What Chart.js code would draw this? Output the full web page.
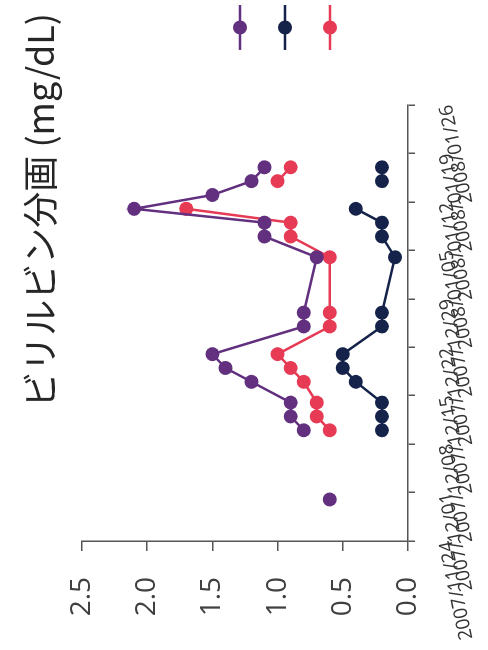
<!DOCTYPE html>
<html>
<head>
<meta charset="utf-8">
<script src="https://cdn.jsdelivr.net/npm/chart.js"></script>
<style>
  html, body { margin: 0; padding: 0; background: #fff; overflow: hidden; }
  body { width: 488px; height: 650px; position: relative; }
  /* chart drawn upright (650x488), then turned a quarter left like the photo */
  #wrap {
    position: absolute; left: 0; top: 0;
    width: 650px; height: 488px;
    transform-origin: 0 0;
    transform: translate(0, 650px) rotate(-90deg);
  }
</style>
</head>
<body>
<div id="wrap"><canvas id="bilChart" width="650" height="488"></canvas></div>
<script>
// === données ===
const startDate = "2007/11/24";
const dates = ["2007/11/30", "2007/12/10", "2007/12/12", "2007/12/14", "2007/12/17", "2007/12/19",
  "2007/12/21", "2007/12/25", "2007/12/27", "2008/01/04", "2008/01/07", "2008/01/09",
  "2008/01/11", "2008/01/13", "2008/01/15", "2008/01/17"];
const totalBil    = [0.6, 0.8, 0.9, 0.9, 1.2, 1.4, 1.5, 0.8, 0.8, 0.7, 1.1, 1.1, 2.1, 1.5, 1.2, 1.1];
const directBil   = [null, 0.2, 0.2, 0.2, 0.4, 0.5, 0.5, 0.2, 0.2, 0.1, 0.2, 0.2, 0.4, null, 0.2, 0.2];
const indirectBil = [null, 0.6, 0.7, 0.7, 0.8, 0.9, 1.0, 0.6, 0.6, 0.6, 0.9, 0.9, 1.7, null, 1.0, 0.9];
const seriesNames = ["総ビリルビン", "直接ビリルビン", "間接ビリルビン"];
const xTickLabels = ["2007/11/24", "2007/12/01", "2007/12/08", "2007/12/15", "2007/12/22",
  "2007/12/29", "2008/01/05", "2008/01/12", "2008/01/19", "2008/01/26"];
const yTicks = [0, 0.5, 1.0, 1.5, 2.0, 2.5];
const chartTitle = "ビリルビン分画 (mg/dL)";

const colors = ["#62307f", "#15234a", "#e63a55"];

// jours depuis le 24/11
function dayOf(s) {
  const [y, m, d] = s.split("/").map(Number);
  const [y0, m0, d0] = startDate.split("/").map(Number);
  return (Date.UTC(y, m - 1, d) - Date.UTC(y0, m0 - 1, d0)) / 86400000;
}
const toPoints = (vals) => dates.map((d, i) => ({ x: dayOf(d), y: vals[i] }));

const makeSet = (name, vals, color) => ({
  label: name,
  data: toPoints(vals),
  borderColor: color,
  backgroundColor: color,
  borderWidth: 2.5,
  pointRadius: 7,
  pointHoverRadius: 7,
  pointBorderWidth: 0,
  spanGaps: 9,
  tension: 0
});

// titre + légende dessinés à la main (la légende déborde du cadre comme sur la photo)
const decorPlugin = {
  id: "decor",
  afterDraw(chart) {
    const ctx = chart.ctx;
    ctx.save();
    ctx.fillStyle = "#262626";
    ctx.font = "36px 'Noto Sans CJK JP'";
    ctx.textAlign = "right";
    ctx.textBaseline = "middle";
    ctx.fillText(chartTitle, 637, 40);

    chart.data.datasets.forEach((ds, i) => {
      const y = 240 + i * 45;
      ctx.strokeStyle = ds.borderColor;
      ctx.lineWidth = 2.5;
      ctx.beginPath();
      ctx.moveTo(600, y);
      ctx.lineTo(645, y);
      ctx.stroke();
      ctx.fillStyle = ds.backgroundColor;
      ctx.beginPath();
      ctx.arc(622.5, y, 7, 0, Math.PI * 2);
      ctx.fill();
      ctx.fillStyle = "#333";
      ctx.font = "22px 'Noto Sans CJK JP'";
      ctx.textAlign = "left";
      ctx.fillText(ds.label, 652, y);
    });
    ctx.restore();
  }
};

new Chart(document.getElementById("bilChart"), {
  type: "line",
  data: {
    datasets: [
      makeSet(seriesNames[0], totalBil, colors[0]),
      makeSet(seriesNames[1], directBil, colors[1]),
      makeSet(seriesNames[2], indirectBil, colors[2])
    ]
  },
  options: {
    responsive: false,
    animation: false,
    layout: { padding: { top: 82, right: 105, bottom: 0, left: 0 } },
    plugins: {
      legend: { display: false },
      title: { display: false },
      tooltip: { enabled: false }
    },
    scales: {
      x: {
        type: "linear",
        min: 0,
        max: 63,
        afterFit: (s) => { s.height = 80; s.paddingLeft = 0; s.paddingRight = 0; },
        afterBuildTicks: (s) => { s.ticks = xTickLabels.map((t) => ({ value: dayOf(t) })); },
        ticks: {
          autoSkip: false,
          minRotation: 12,
          maxRotation: 12,
          padding: 20,
          color: "#333",
          font: { family: "'Open Sans'", size: 19 },
          callback: (v, i) => xTickLabels[i]
        },
        grid: { drawOnChartArea: false, drawTicks: true, tickLength: 7, color: "#555", lineWidth: 1.5 },
        border: { display: true, color: "#555", width: 1.5 }
      },
      y: {
        min: 0,
        max: 2.5,
        afterFit: (s) => { s.width = 109; },
        afterBuildTicks: (s) => { s.ticks = yTicks.map((v) => ({ value: v })); },
        ticks: {
          padding: 26,
          color: "#404040",
          font: { family: "'Open Sans'", size: 28 },
          callback: (v) => Number(v).toFixed(1)
        },
        grid: { drawOnChartArea: false, drawTicks: true, tickLength: 10, color: "#555", lineWidth: 1.5 },
        border: { display: true, color: "#555", width: 1.5 }
      }
    }
  },
  plugins: [decorPlugin]
});
</script>
</body>
</html>
